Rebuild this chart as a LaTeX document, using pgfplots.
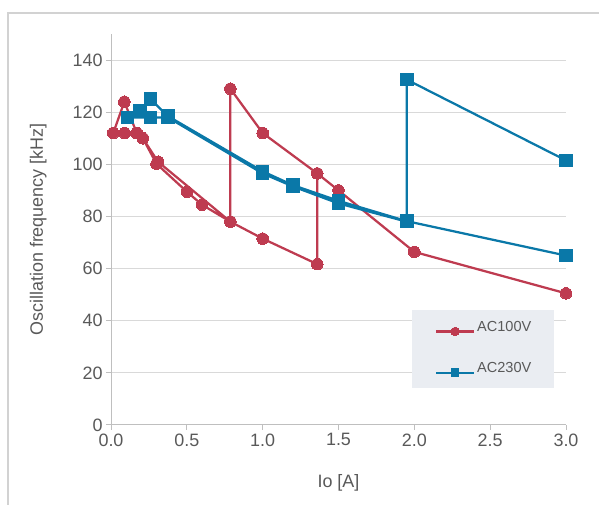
\documentclass[border=0pt]{standalone}
\usepackage{pgfplots}
\pgfplotsset{compat=1.18}
\usepackage{fontspec}
\setmainfont{Liberation Sans}
\definecolor{redc}{RGB}{190,59,80}
\definecolor{bluec}{RGB}{10,120,168}
\definecolor{gridc}{RGB}{217,217,217}
\definecolor{axc}{RGB}{191,191,191}
\definecolor{txtc}{RGB}{89,89,89}
\definecolor{legbg}{RGB}{234,237,242}
\definecolor{framec}{RGB}{210,210,210}
\pgfplotstableread{
x y
3.0 50.5
2.0 66.4
1.5 90
1.36 96.5
1.0 112
0.787 129
0.787 78
0.6 84.5
0.5 89.5
0.3 100.2
0.21 110
0.17 112
0.09 112
0.015 112
0.088 124
0.17 112
0.21 110
0.31 101
0.787 78
1.0 71.5
1.36 61.7
1.36 96.5
}\redtab
\pgfplotstableread{
x y
3.0 101.5
1.95 132.5
1.95 78
1.5 85
1.2 91.5
1.0 96.5
0.375 118
0.26 118
0.11 118
0.19 120.5
0.26 125
0.375 118.5
1.0 97.3
1.2 92
1.5 86
1.95 78.2
3.0 65
}\bluetab
\begin{document}
\begin{tikzpicture}
\useasboundingbox (0,0) rectangle (599bp,505bp);
\draw[framec, line width=1.2bp] (8bp,-2bp) -- (8bp,492bp) -- (602bp,492bp);
\begin{axis}[
  at={(111bp,80bp)}, anchor=south west,
  scale only axis, width=455bp, height=391bp,
  xmin=0, xmax=3, ymin=0, ymax=150,
  axis lines=left, axis line style={axc, line width=1bp, -},
  xtick={0,0.5,1,1.5,2,2.5,3}, ytick={0,20,40,60,80,100,120,140},
  xticklabel style={/pgf/number format/.cd, fixed, fixed zerofill, precision=1},
  ymajorgrids, grid style={gridc, line width=1bp},
  tick align=outside, major tick length=5bp, tick style={axc, line width=1bp},
  /pgf/number format/assume math mode=true,
  every tick label/.append style={font=\fontsize{18}{20}\selectfont, text=txtc},
  xlabel={Io [A]}, ylabel={Oscillation frequency [kHz]},
  every axis y label/.style={at={(axis description cs:-0.16,0.5)}, rotate=90, anchor=center, font=\fontsize{18}{20}\selectfont, text=txtc},
  every axis x label/.style={at={(axis description cs:0.5,-0.148)}, anchor=center, font=\fontsize{18}{20}\selectfont, text=txtc},
  clip=false,
  legend style={at={(axis cs:1.983,44.1)}, anchor=north west, fill=legbg, draw=none,
    font=\fontsize{14.6}{16}\selectfont, text=txtc,
    inner xsep=23bp, inner ysep=11bp, row sep=27bp,
    nodes={inner sep=0pt, anchor=base west},
    /tikz/every odd column/.append style={column sep=2bp}},
  legend cell align=left,
  legend image code/.code={\draw[mark repeat=2,mark phase=2,#1] plot coordinates {(0bp,0bp) (19bp,0bp) (38bp,0bp)};},
]
\addplot[redc, line width=2.25bp, mark=*, mark size=5.8bp, mark options={fill=redc, draw=redc, line width=0pt},
  legend image post style={mark size=4.2bp}] table[x=x,y=y] {\redtab};
\addlegendentry{AC100V}
\addplot[bluec, line width=2.25bp, mark=square*, mark size=6.3bp, mark options={fill=bluec, draw=bluec, line width=0pt},
  legend image post style={mark size=3.8bp}] table[x=x,y=y] {\bluetab};
\addlegendentry{AC230V}
\end{axis}
\end{tikzpicture}
\end{document}
